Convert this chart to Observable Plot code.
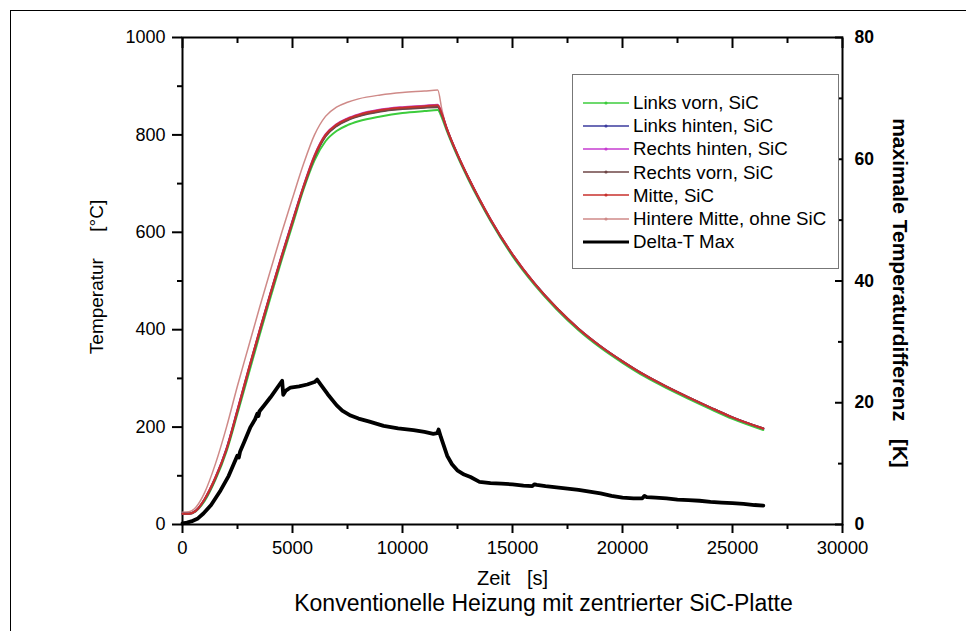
<!DOCTYPE html>
<html>
<head>
<meta charset="utf-8">
<script src="https://cdn.jsdelivr.net/npm/d3@7"></script>
<script src="https://cdn.jsdelivr.net/npm/@observablehq/plot@0.6"></script>
<style>
  html, body { margin: 0; padding: 0; background: #fff; overflow: hidden; font-family: "Liberation Sans", Arial, sans-serif; }
  #wrap { position: relative; width: 966px; height: 631px; overflow: hidden; }
  #plot svg { display: block; }
  #rahmen { position: absolute; left: 10px; top: 10px; width: 980px; height: 640px;
            border-top: 1.5px solid #000; border-left: 1.5px solid #000; pointer-events: none; }
  #legende { position: absolute; left: 572px; top: 74px; width: 267px; height: 195px;
             border: 1.5px solid #777; background: #fff; box-sizing: border-box; padding-top: 16px; }
  .zeile { height: 23.2px; line-height: 23.2px; font-size: 18.7px; color: #000; white-space: nowrap;
           display: flex; align-items: center; }
  .zeile svg { margin-left: 10px; margin-right: 4px; flex: none; }
</style>
</head>
<body>
<div id="wrap">
  <div id="plot"></div>
  <div id="rahmen"></div>
  <div id="legende"></div>
</div>
<script>
// Zeitpunkte der Temperaturkurven [s]
const zeit = [0, 300, 600, 1000, 1500, 2000, 2500, 3000, 3500, 4000, 4500, 5000, 5500, 6000, 6500, 7000, 7500, 8000, 9000, 10000, 11000, 11600, 11800, 12000, 12500, 13000, 13500, 14000, 15000, 16000, 17000, 18000, 19000, 20000, 21000, 22000, 23000, 24000, 25000, 26400];

// Temperaturen der Messstellen [°C]
const linksVorn    = [22, 22, 27, 48, 92, 150, 228, 308, 388, 466, 542, 615, 688, 748, 787, 808, 820, 828, 838, 845, 849, 851, 834, 810, 756, 708, 664, 623, 551, 492, 442, 399, 363, 332, 304, 280, 258, 237, 217, 194];
const linksHinten  = [22, 22, 28, 51, 96, 155, 234, 316, 396, 474, 549, 622, 693, 755, 798, 819, 831, 839, 849, 854, 857, 858, 840, 814, 759, 711, 667, 626, 554, 495, 445, 402, 366, 335, 307, 283, 261, 240, 220, 197];
const rechtsHinten = [22, 22, 28, 52, 97, 156, 236, 318, 398, 476, 551, 624, 695, 758, 801, 822, 834, 842, 852, 857, 860, 862, 842, 815, 760, 712, 668, 627, 555, 495, 445, 402, 366, 335, 307, 283, 261, 240, 220, 197];
const rechtsVorn   = [22, 22, 28, 51, 95, 154, 233, 315, 395, 473, 548, 621, 692, 754, 797, 818, 830, 838, 848, 853, 856, 857, 840, 814, 759, 711, 667, 626, 554, 495, 445, 402, 366, 335, 307, 283, 261, 240, 220, 197];
const mitte        = [22, 22, 28, 52, 97, 155, 235, 318, 398, 475, 550, 622, 694, 757, 800, 821, 833, 841, 851, 856, 859, 861, 842, 815, 760, 712, 668, 627, 555, 495, 445, 402, 366, 335, 307, 283, 261, 240, 220, 197];
const hintereMitte = [25, 26, 35, 65, 125, 200, 285, 365, 445, 522, 598, 670, 740, 800, 838, 857, 867, 874, 882, 887, 890, 892, 850, 815, 760, 712, 668, 627, 555, 495, 445, 402, 366, 335, 307, 283, 261, 240, 220, 197];

// Maximale Temperaturdifferenz [K]
const dtZeit = [0, 200, 400, 700, 950, 1300, 1730, 2100, 2490, 2560, 2620, 2800, 3090, 3300, 3400, 3450, 3500, 3700, 4000, 4200, 4450, 4530, 4580, 4700, 4910, 5300, 5670, 6000, 6120, 6300, 6600, 7000, 7260, 7640, 8000, 8500, 9140, 9800, 10500, 11000, 11400, 11580, 11640, 11750, 12030, 12250, 12490, 12800, 13090, 13500, 14000, 14500, 15000, 15500, 15900, 16000, 16100, 16500, 17000, 17500, 18000, 18500, 19000, 19500, 20000, 20500, 20900, 21000, 21100, 21500, 22000, 22500, 23000, 23500, 24000, 24500, 25000, 25500, 26000, 26400];
const deltaT = [0.2, 0.3, 0.5, 1.0, 1.8, 3.2, 5.6, 8.0, 11.3, 11.0, 12.0, 13.5, 16.0, 17.3, 18.2, 17.8, 18.6, 19.5, 20.9, 21.9, 23.2, 23.6, 21.3, 22.0, 22.5, 22.7, 23.0, 23.4, 23.8, 22.9, 21.4, 19.6, 18.7, 17.9, 17.4, 16.9, 16.2, 15.8, 15.5, 15.2, 14.9, 15.0, 15.6, 14.3, 11.3, 9.9, 8.9, 8.2, 7.8, 7.0, 6.8, 6.7, 6.6, 6.4, 6.3, 6.6, 6.5, 6.3, 6.1, 5.9, 5.7, 5.4, 5.1, 4.7, 4.4, 4.3, 4.3, 4.7, 4.5, 4.4, 4.3, 4.1, 4.0, 3.9, 3.7, 3.6, 3.5, 3.4, 3.2, 3.1];

// Achsen
const xMajor = [0, 5000, 10000, 15000, 20000, 25000, 30000];
const xMinor = [2500, 7500, 12500, 17500, 22500, 27500];
const yMajor = [0, 200, 400, 600, 800, 1000];
const yMinor = [100, 300, 500, 700, 900];
const dtMajor = [0, 20, 40, 60, 80];
const dtMinor = [10, 30, 50, 70];
const dtMax = 80;
const tMax = 1000;
const faktor = tMax / dtMax; // K -> Position auf der Temperaturachse

const serien = [
  {name: "Links vorn, SiC", werte: linksVorn, farbe: "#3ccc3c", breite: 2},
  {name: "Links hinten, SiC", werte: linksHinten, farbe: "#3b3b9e", breite: 2},
  {name: "Rechts hinten, SiC", werte: rechtsHinten, farbe: "#c63cd0", breite: 2},
  {name: "Rechts vorn, SiC", werte: rechtsVorn, farbe: "#6e4646", breite: 2},
  {name: "Mitte, SiC", werte: mitte, farbe: "#c8302c", breite: 2},
  {name: "Hintere Mitte, ohne SiC", werte: hintereMitte, farbe: "#cf8a88", breite: 1.5}
];
const deltaSerie = {name: "Delta-T Max", farbe: "#000", breite: 3.8};

const font = "'Liberation Sans', Arial, sans-serif";

// Referenzkurve ohne SiC zuerst, die SiC-Kurven darueber
const zeichenfolge = [serien[5], ...serien.slice(0, 5)];
const linien = zeichenfolge.map(s => Plot.line(zeit.map((t, i) => ({t, T: s.werte[i]})), {
  x: "t", y: "T", stroke: s.farbe, strokeWidth: s.breite, curve: "monotone-x"
}));

const deltaDaten = dtZeit.map((t, i) => ({t, dT: deltaT[i]}));

const chart = Plot.plot({
  width: 966,
  height: 631,
  marginLeft: 182,
  marginRight: 124,
  marginTop: 37,
  marginBottom: 107,
  x: {domain: [0, 30000]},
  y: {domain: [0, tMax]},
  style: {fontFamily: font, fontSize: "18px", color: "#000", background: "#fff", overflow: "visible"},
  marks: [
    // untere Zeitachse
    Plot.axisX({ticks: xMajor, tickSize: 9, tickPadding: 7, strokeWidth: 2, tickFormat: d => String(d), fontSize: 18.5, label: null}),
    Plot.axisX({ticks: xMinor, tickSize: 5, strokeWidth: 2, fill: "none", label: null}),
    // obere Rahmenlinie mit Innenstrichen
    Plot.axisX({anchor: "top", ticks: xMajor, tickSize: 10, insetTop: 10, strokeWidth: 2, fill: "none", label: null}),
    Plot.axisX({anchor: "top", ticks: xMinor, tickSize: 5, insetTop: 5, strokeWidth: 2, fill: "none", label: null}),
    // linke Temperaturachse
    Plot.axisY({ticks: yMajor, tickSize: 10, tickPadding: 7, strokeWidth: 2, tickFormat: d => String(d), fontSize: 18, label: null}),
    Plot.axisY({ticks: yMinor, tickSize: 5, strokeWidth: 2, fill: "none", label: null}),
    // rechte Achse: Temperaturdifferenz
    Plot.axisY({anchor: "right", ticks: dtMajor.map(k => k * faktor), tickSize: 8, insetRight: 8, strokeWidth: 2, fill: "none", label: null}),
    Plot.axisY({anchor: "right", ticks: dtMinor.map(k => k * faktor), tickSize: 5, insetRight: 5, strokeWidth: 2, fill: "none", label: null}),
    Plot.axisY({anchor: "right", ticks: dtMajor.map(k => k * faktor), tickSize: 0, tickPadding: 12,
      tickFormat: d => String(Math.round(d / faktor)), fontWeight: "bold", fontSize: 17.5, label: null}),
    Plot.frame({stroke: "#000", strokeWidth: 2}),
    ...linien,
    Plot.line(deltaDaten, {x: "t", y: d => d.dT * faktor, stroke: deltaSerie.farbe, strokeWidth: deltaSerie.breite, strokeLinejoin: "round"}),
    // Achsentitel
    Plot.text(["Temperatur\u00a0\u00a0\u00a0\u00a0\u00a0[°C]"], {frameAnchor: "left", dx: -86, dy: -4, rotate: -90, textAnchor: "middle", fontSize: 19, fill: "#000"}),
    Plot.text(["maximale Temperaturdifferenz\u00a0\u00a0\u00a0[K]"], {frameAnchor: "right", dx: 57, dy: 12, rotate: 90, textAnchor: "middle", fontSize: 21, fontWeight: "bold", fill: "#000"}),
    Plot.text(["Zeit\u00a0\u00a0\u00a0[s]"], {frameAnchor: "bottom", dy: 60, textAnchor: "middle", fontSize: 20, fill: "#000"}),
    Plot.text(["Konventionelle Heizung mit zentrierter SiC-Platte"], {frameAnchor: "bottom", dx: 31, dy: 86, textAnchor: "middle", fontSize: 23, fill: "#000"})
  ]
});
document.getElementById("plot").appendChild(chart);

// Legende
const legende = document.getElementById("legende");
for (const s of [...serien, deltaSerie]) {
  const zeile = document.createElement("div");
  zeile.className = "zeile";
  const dicke = s === deltaSerie ? 3 : 1.6;
  const punkt = s === deltaSerie ? "" : `<circle cx="23" cy="6" r="1.6" fill="${s.farbe}"/>`;
  zeile.innerHTML = `<svg width="46" height="12"><line x1="0" x2="46" y1="6" y2="6" stroke="${s.farbe}" stroke-width="${dicke}"/>${punkt}</svg><span>${s.name}</span>`;
  legende.appendChild(zeile);
}
</script>
</body>
</html>
